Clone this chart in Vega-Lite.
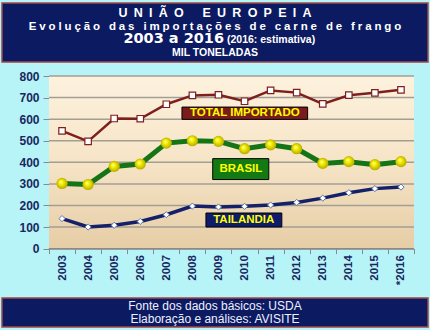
{
  "$schema": "https://vega.github.io/schema/vega-lite/v6.json",
  "background": "#b6f4f7",
  "padding": {"left": 1, "top": 2, "right": 3, "bottom": 3},
  "spacing": 7,
  "config": {"axis": {"labelOverlap": false}},
  "vconcat": [
    {
      "width": 426,
      "height": 59,
      "view": {"fill": "#0c1a62", "stroke": "#a04848", "strokeWidth": 1.5},
      "layer": [
        {
          "data": {"values": [{"line": 1, "t": "U\u2002N\u2002I\u2002Ã\u2002O\u2002\u2002\u2002E\u2002U\u2002R\u2002O\u2002P\u2002E\u2002I\u2002A"}]},
          "mark": {"type": "text", "font": "Liberation Sans", "fontWeight": "bold", "fontSize": 12.5, "color": "#ffffff", "baseline": "middle", "dy": 0.3},
          "encoding": {
            "y": {"field": "line", "type": "ordinal", "scale": {"type": "point", "domain": [1, 2, 3, 4], "padding": 0.77}, "axis": null},
            "text": {"field": "t"}
          }
        },
        {
          "data": {"values": [{"line": 2, "t": "E\u2005v\u2005o\u2005l\u2005u\u2005ç\u2005ã\u2005o\u2005 \u2005d\u2005a\u2005s\u2005 \u2005i\u2005m\u2005p\u2005o\u2005r\u2005t\u2005a\u2005ç\u2005õ\u2005e\u2005s\u2005 \u2005d\u2005e\u2005 \u2005c\u2005a\u2005r\u2005n\u2005e\u2005 \u2005d\u2005e\u2005 \u2005f\u2005r\u2005a\u2005n\u2005g\u2005o"}]},
          "mark": {"type": "text", "font": "Liberation Sans", "fontWeight": "bold", "fontSize": 11.5, "color": "#ffffff", "baseline": "middle", "dy": 0.8},
          "encoding": {
            "y": {"field": "line", "type": "ordinal", "scale": {"type": "point", "domain": [1, 2, 3, 4], "padding": 0.77}, "axis": null},
            "text": {"field": "t"}
          }
        },
        {
          "data": {"values": [{"line": 3, "t": "2003 a 2016"}]},
          "mark": {"type": "text", "font": "DejaVu Sans", "fontWeight": "bold", "fontSize": 14.5, "color": "#ffffff", "baseline": "alphabetic", "align": "right", "dx": 9, "dy": 4.3},
          "encoding": {
            "y": {"field": "line", "type": "ordinal", "scale": {"type": "point", "domain": [1, 2, 3, 4], "padding": 0.77}, "axis": null},
            "text": {"field": "t"}
          }
        },
        {
          "data": {"values": [{"line": 3, "t": "(2016: estimativa)"}]},
          "mark": {"type": "text", "font": "Liberation Sans", "fontWeight": "bold", "fontSize": 10.5, "color": "#ffffff", "baseline": "alphabetic", "align": "left", "dx": 12, "dy": 4.3},
          "encoding": {
            "y": {"field": "line", "type": "ordinal", "scale": {"type": "point", "domain": [1, 2, 3, 4], "padding": 0.77}, "axis": null},
            "text": {"field": "t"}
          }
        },
        {
          "data": {"values": [{"line": 4, "t": "MIL TONELADAS"}]},
          "mark": {"type": "text", "font": "Liberation Sans", "fontWeight": "bold", "fontSize": 10.5, "color": "#ffffff", "baseline": "middle", "dy": 1.3},
          "encoding": {
            "y": {"field": "line", "type": "ordinal", "scale": {"type": "point", "domain": [1, 2, 3, 4], "padding": 0.77}, "axis": null},
            "text": {"field": "t"}
          }
        }
      ]
    },
    {
      "spacing": 12,
      "vconcat": [
        {
          "width": 426,
          "height": 172.6,
          "view": {"stroke": null, "fill": null},
          "data": {"values": [
            {"year": 2003, "total": 546, "brasil": 302, "tailandia": 139},
            {"year": 2004, "total": 497, "brasil": 297, "tailandia": 100},
            {"year": 2005, "total": 603, "brasil": 381, "tailandia": 108},
            {"year": 2006, "total": 602, "brasil": 392, "tailandia": 126},
            {"year": 2007, "total": 669, "brasil": 489, "tailandia": 157},
            {"year": 2008, "total": 710, "brasil": 500, "tailandia": 197},
            {"year": 2009, "total": 713, "brasil": 497, "tailandia": 193},
            {"year": 2010, "total": 683, "brasil": 463, "tailandia": 196},
            {"year": 2011, "total": 733, "brasil": 481, "tailandia": 202},
            {"year": 2012, "total": 723, "brasil": 463, "tailandia": 214},
            {"year": 2013, "total": 671, "brasil": 395, "tailandia": 234},
            {"year": 2014, "total": 711, "brasil": 403, "tailandia": 259},
            {"year": 2015, "total": 722, "brasil": 389, "tailandia": 278},
            {"year": 2016, "total": 736, "brasil": 403, "tailandia": 285}
          ]},
          "layer": [
            {
              "mark": {"type": "rect",
                "fill": {"gradient": "linear", "x1": 0, "y1": 0, "x2": 0, "y2": 1, "stops": [{"offset": 0, "color": "#fdf2de"}, {"offset": 0.5, "color": "#f6e4c6"}, {"offset": 1, "color": "#e6cda6"}]}},
              "encoding": {
                "x": {"datum": 2002.5, "type": "quantitative", "title": null,
                  "scale": {"domain": [2000.6973, 2017.037], "nice": false, "zero": false},
                  "axis": {"values": [2002.5, 2003.5, 2004.5, 2005.5, 2006.5, 2007.5, 2008.5, 2009.5, 2010.5, 2011.5, 2012.5, 2013.5, 2014.5, 2015.5, 2016.5],
                    "tickCount": 15,
                    "labelExpr": "datum.value > 2016 ? '' : (datum.value > 2015 ? '*2016' : '' + (datum.value + 0.5))",
                    "labelAngle": -90, "grid": false, "labelOffset": 13.04, "labelOverlap": false, "labelBound": false, "labelFlush": false, "domain": false,
                    "tickSize": 5, "labelPadding": 1, "tickColor": "#8a8a8a",
                    "labelFont": "Liberation Sans", "labelFontWeight": "bold", "labelFontSize": 11.5, "labelColor": "#1a2660"}},
                "x2": {"datum": 2016.5},
                "y": {"datum": 0, "type": "quantitative", "title": null,
                  "scale": {"domain": [0, 800], "nice": false},
                  "axis": {"values": [0, 100, 200, 300, 400, 500, 600, 700, 800], "tickCount": 9, "labelOverlap": false, "grid": false, "offset": -47,
                    "tickSize": 6, "labelPadding": 4, "domainColor": "#8a8a8a", "tickColor": "#8a8a8a",
                    "labelFont": "Liberation Sans", "labelFontWeight": "bold", "labelFontSize": 12, "labelColor": "#1a2660"}},
                "y2": {"datum": 800}
              }
            },
            {
              "data": {"values": [{"v": 100}, {"v": 200}, {"v": 300}, {"v": 400}, {"v": 500}, {"v": 600}, {"v": 700}, {"v": 800}]},
              "mark": {"type": "rule", "color": "#a39e95", "strokeWidth": 1.5},
              "encoding": {
                "x": {"datum": 2002.5, "type": "quantitative", "title": null},
                "x2": {"datum": 2016.5},
                "y": {"field": "v", "type": "quantitative", "title": null}
              }
            },
            {
              "mark": {"type": "rule", "color": "#8a8a8a", "strokeWidth": 1},
              "encoding": {
                "x": {"datum": 2002.5, "type": "quantitative", "title": null},
                "x2": {"datum": 2016.5},
                "y": {"datum": 0, "type": "quantitative", "title": null}
              }
            },
            {
              "mark": {"type": "line", "color": "#7d1f1f", "strokeWidth": 2.5},
              "encoding": {
                "x": {"field": "year", "type": "quantitative", "title": null},
                "y": {"field": "total", "type": "quantitative", "title": null}
              }
            },
            {
              "mark": {"type": "point", "shape": "square", "filled": true, "fill": "#ffffff", "stroke": "#7d1f1f", "strokeWidth": 1.2, "size": 42, "opacity": 1},
              "encoding": {
                "x": {"field": "year", "type": "quantitative", "title": null},
                "y": {"field": "total", "type": "quantitative", "title": null}
              }
            },
            {
              "mark": {"type": "line", "color": "#157515", "strokeWidth": 5},
              "encoding": {
                "x": {"field": "year", "type": "quantitative", "title": null},
                "y": {"field": "brasil", "type": "quantitative", "title": null}
              }
            },
            {
              "mark": {"type": "point", "shape": "circle", "filled": true, "size": 125, "opacity": 1, "strokeWidth": 0,
                "fill": {"gradient": "radial", "x1": 0.38, "y1": 0.35, "r1": 0, "x2": 0.5, "y2": 0.5, "r2": 0.55,
                  "stops": [{"offset": 0, "color": "#ffffb0"}, {"offset": 0.35, "color": "#f5f000"}, {"offset": 1, "color": "#b0a000"}]}},
              "encoding": {
                "x": {"field": "year", "type": "quantitative", "title": null},
                "y": {"field": "brasil", "type": "quantitative", "title": null}
              }
            },
            {
              "mark": {"type": "line", "color": "#14206a", "strokeWidth": 3.5},
              "encoding": {
                "x": {"field": "year", "type": "quantitative", "title": null},
                "y": {"field": "tailandia", "type": "quantitative", "title": null}
              }
            },
            {
              "mark": {"type": "point", "shape": "diamond", "filled": true, "fill": "#ffffff", "stroke": "#5a78b0", "strokeWidth": 1, "size": 38, "opacity": 1},
              "encoding": {
                "x": {"field": "year", "type": "quantitative", "title": null},
                "y": {"field": "tailandia", "type": "quantitative", "title": null}
              }
            },
            {
              "data": {"values": [
                {"label": "TOTAL IMPORTADO", "x1": 2007.6, "x2": 2012.42, "y1": 599, "y2": 656, "xc": 2010.01, "yc": 627},
                {"label": "BRASIL", "x1": 2008.78, "x2": 2010.93, "y1": 320, "y2": 417, "xc": 2009.86, "yc": 368},
                {"label": "TAILANDIA", "x1": 2008.52, "x2": 2011.43, "y1": 100, "y2": 165, "xc": 2009.97, "yc": 133}
              ]},
              "layer": [
                {
                  "mark": {"type": "rect", "stroke": "#000000", "strokeWidth": 1},
                  "encoding": {
                    "x": {"field": "x1", "type": "quantitative", "title": null},
                    "x2": {"field": "x2"},
                    "y": {"field": "y1", "type": "quantitative", "title": null},
                    "y2": {"field": "y2"},
                    "color": {"field": "label", "type": "nominal", "legend": null,
                      "scale": {"domain": ["TOTAL IMPORTADO", "BRASIL", "TAILANDIA"], "range": ["#7a1c1c", "#137a13", "#0f1c6b"]}}
                  }
                },
                {
                  "mark": {"type": "text", "font": "Liberation Sans", "fontWeight": "bold", "fontSize": 11.5, "color": "#ffff00", "baseline": "middle", "align": "center"},
                  "encoding": {
                    "x": {"field": "xc", "type": "quantitative", "title": null},
                    "y": {"field": "yc", "type": "quantitative", "title": null},
                    "text": {"field": "label"}
                  }
                }
              ]
            }
          ]
        },
        {
          "width": 426,
          "height": 29,
          "view": {"fill": "#0c1a62", "stroke": "#a04848", "strokeWidth": 1.5},
          "layer": [
            {
              "data": {"values": [{"line": 1, "t": "Fonte dos dados básicos: USDA"}, {"line": 2, "t": "Elaboração e análises: AVISITE"}]},
              "mark": {"type": "text", "font": "Liberation Sans", "fontSize": 12, "color": "#eef0ff", "baseline": "middle"},
              "encoding": {
                "y": {"field": "line", "type": "ordinal", "scale": {"type": "point", "domain": [1, 2], "padding": 0.65}, "axis": null},
                "text": {"field": "t"}
              }
            }
          ]
        }
      ]
    }
  ]
}
